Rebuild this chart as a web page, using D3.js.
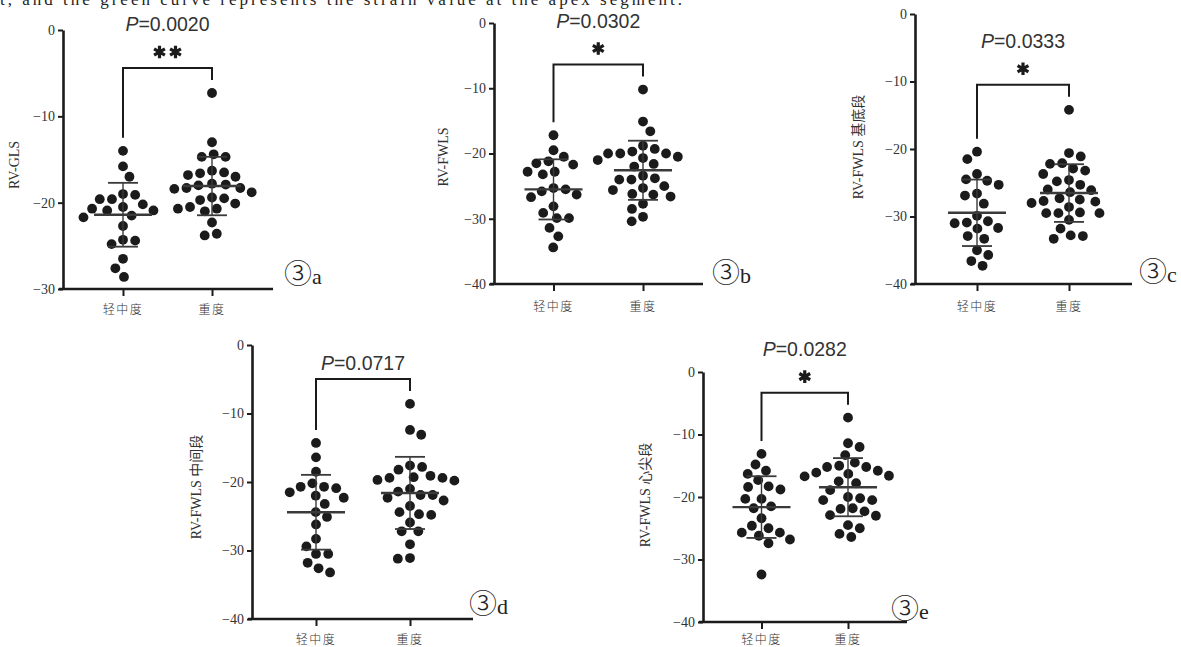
<!DOCTYPE html>
<html>
<head>
<meta charset="utf-8">
<script src="https://cdn.jsdelivr.net/npm/d3@7"></script>
<style>
  body { margin: 0; background: #fff; }
  svg { display: block; }
</style>
</head>
<body>
<svg id="fig" width="1181" height="647"></svg>
<script>
// groups on the x axis
const GROUPS = ['轻中度', '重度'];

// RV-GLS
const A_MILD =   [-14.0, -15.8, -17.0, -19.1, -19.0, -20.2, -19.6, -19.6, -20.5, -20.7, -20.9, -20.9, -21.5, -21.7, -22.7, -24.4, -24.8, -24.3, -26.5, -27.6, -28.6];
const A_SEVERE = [-7.3, -13.0, -14.4, -14.7, -14.7, -17.0, -16.8, -16.6, -16.3, -16.5, -18.3, -18.3, -18.0, -17.8, -18.4, -17.9, -19.4, -19.5, -18.8, -19.7, -20.5, -20.7, -20.1, -20.7, -21.0, -22.3, -23.8, -23.6];
// RV-FWLS
const B_MILD =   [-17.2, -19.5, -20.5, -21.2, -21.7, -21.5, -22.8, -23.2, -22.8, -25.3, -25.5, -25.8, -26.3, -26.7, -28.1, -29.9, -29.9, -29.1, -31.4, -32.7, -34.4];
const B_SEVERE = [-10.2, -15.1, -16.6, -18.8, -20.0, -19.3, -20.0, -20.0, -20.5, -20.7, -19.7, -21.0, -21.6, -22.0, -24.0, -23.4, -24.0, -23.8, -25.3, -25.0, -25.6, -26.2, -26.6, -26.3, -27.7, -28.5, -29.7, -30.4];
// RV-FWLS 基底段
const C_MILD =   [-20.4, -21.5, -24.5, -23.7, -24.7, -25.3, -26.6, -26.9, -28.1, -30.7, -29.9, -31.0, -30.9, -31.7, -31.8, -32.9, -33.3, -35.0, -35.7, -36.6, -37.3];
const C_SEVERE = [-14.2, -20.6, -22.2, -21.1, -22.1, -23.2, -22.9, -24.6, -24.8, -23.7, -26.0, -26.1, -25.3, -26.4, -27.8, -27.5, -27.7, -28.0, -27.3, -28.6, -29.5, -29.5, -29.5, -29.4, -30.5, -31.8, -33.3, -32.8, -32.9];
// RV-FWLS 中间段
const D_MILD =   [-14.3, -16.4, -18.5, -20.7, -20.7, -20.9, -20.2, -21.5, -22.0, -22.3, -23.2, -24.4, -25.1, -26.2, -28.3, -29.4, -30.5, -30.5, -31.8, -32.6, -33.2];
const D_SEVERE = [-8.6, -13.1, -12.4, -17.8, -17.6, -19.4, -19.8, -19.1, -19.3, -18.2, -19.7, -19.4, -21.4, -21.9, -22.3, -21.0, -21.9, -22.7, -23.5, -24.4, -24.8, -24.7, -25.9, -27.2, -27.2, -29.1, -31.2, -31.1];
// RV-FWLS 心尖段
const E_MILD =   [-13.1, -14.8, -15.8, -16.3, -17.3, -18.8, -18.3, -18.4, -20.3, -20.3, -21.5, -21.8, -23.4, -25.0, -25.7, -24.6, -26.2, -25.7, -26.8, -27.4, -32.4];
const E_SEVERE = [-7.3, -12.0, -11.4, -13.3, -14.5, -15.8, -15.2, -15.0, -16.6, -16.7, -16.3, -16.1, -15.2, -17.5, -18.9, -17.8, -20.5, -20.5, -20.2, -20.0, -22.3, -21.9, -21.8, -23.0, -22.9, -25.0, -24.5, -26.4, -25.9];

const SERIES = [[A_MILD, A_SEVERE], [B_MILD, B_SEVERE], [C_MILD, C_SEVERE], [D_MILD, D_SEVERE], [E_MILD, E_SEVERE]];
const Y_LABELS = ['RV-GLS', 'RV-FWLS', 'RV-FWLS 基底段', 'RV-FWLS 中间段', 'RV-FWLS 心尖段'];
const Y_MIN = [-30, -40, -40, -40, -40];
const Y_TICKS = [[0, -10, -20, -30], [0, -10, -20, -30, -40], [0, -10, -20, -30, -40], [0, -10, -20, -30, -40], [0, -10, -20, -30, -40]];
const P_VALUES = ['0.0020', '0.0302', '0.0333', '0.0717', '0.0282'];
const STARS = [2, 1, 1, 0, 1];
const TAGS = ['a', 'b', 'c', 'd', 'e'];

// where each panel sits on the page (pixels)
const LAYOUT = [
  {left: 63,  right: 273,  top: 30,  bottom: 289, cats: [123, 212],   ylab: [14, 165],  tag: [284, 284],  catY: 308},
  {left: 494, right: 703,  top: 23,  bottom: 284, cats: [553.5, 643], ylab: [443, 157], tag: [712, 283],  catY: 305},
  {left: 915, right: 1132, top: 14,  bottom: 284, cats: [977, 1069],  ylab: [858, 147], tag: [1139, 282], catY: 305},
  {left: 252, right: 473,  top: 345, bottom: 619, cats: [316, 410],   ylab: [196, 487], tag: [469, 614],  catY: 638},
  {left: 703, right: 907,  top: 372, bottom: 622, cats: [761.5, 848], ylab: [645, 495], tag: [891, 619],  catY: 638}
];

const INK = '#1b1b1b';
const R = 4.9;
const D = 12.2;

const svg = d3.select('#fig');
svg.append('rect').attr('width', 1181).attr('height', 647).attr('fill', '#fff');

// cropped caption line from the page above
svg.append('text')
  .attr('x', 0).attr('y', 5)
  .attr('textLength', 682).attr('lengthAdjust', 'spacing')
  .style('font-family', "'Liberation Serif', 'DejaVu Serif', serif")
  .style('font-size', '17px')
  .attr('fill', '#222')
  .text('t, and the green curve represents the strain value at the apex segment.');

// simple beeswarm: put every dot as near the centre as it can go without overlap
function swarm(values, y) {
  const pts = values.map(v => ({v: v, y: y(v)})).sort((a, b) => a.y - b.y);
  const placed = [];
  pts.forEach((p, k) => {
    const cands = [0];
    placed.forEach(q => {
      const dy = Math.abs(q.y - p.y);
      if (dy < D) {
        const dx = Math.sqrt(D * D - dy * dy);
        cands.push(q.x - dx, q.x + dx);
      }
    });
    const side = k % 2 ? 1 : -1;
    cands.sort((a, b) => (Math.abs(a) - Math.abs(b)) || (side * (a - b)));
    for (const c of cands) {
      if (placed.every(q => (q.x - c) ** 2 + (q.y - p.y) ** 2 >= D * D - 0.01)) { p.x = c; break; }
    }
    placed.push(p);
  });
  return placed;
}

LAYOUT.forEach((L, i) => {
  const y = d3.scaleLinear().domain([Y_MIN[i], 0]).range([L.bottom, L.top]);
  const x = d3.scalePoint().domain(GROUPS).range(L.cats);
  const g = svg.append('g');

  // y axis
  const ya = g.append('g')
    .attr('transform', `translate(${L.left},0)`)
    .call(d3.axisLeft(y).tickValues(Y_TICKS[i]).tickSize(5).tickSizeOuter(0).tickPadding(3).tickFormat(d3.format('d')));
  ya.select('.domain').attr('stroke', INK).attr('stroke-width', 2.6);
  ya.selectAll('.tick line').attr('stroke', INK).attr('stroke-width', 2);
  ya.selectAll('.tick text')
    .attr('fill', '#333')
    .style('font-family', "'Liberation Serif', 'DejaVu Serif', serif")
    .style('font-size', '14px');

  // x axis
  g.append('line')
    .attr('x1', L.left - 4).attr('x2', L.right)
    .attr('y1', L.bottom).attr('y2', L.bottom)
    .attr('stroke', INK).attr('stroke-width', 2.6);
  const xa = g.append('g')
    .attr('transform', `translate(0,${L.bottom})`)
    .call(d3.axisBottom(x).tickSize(7).tickSizeOuter(0).tickFormat(''));
  xa.select('.domain').remove();
  xa.selectAll('.tick line').attr('stroke', INK).attr('stroke-width', 2);

  g.selectAll('text.cat')
    .data(GROUPS)
    .join('text')
    .attr('class', 'cat')
    .attr('x', d => x(d)).attr('y', L.catY)
    .attr('text-anchor', 'middle').attr('dominant-baseline', 'central')
    .attr('fill', '#333')
    .style('font-family', "'Noto Sans CJK SC', sans-serif")
    .style('font-weight', 300)
    .style('font-size', '12px')
    .style('letter-spacing', '1.5px')
    .text(d => d);

  // y label
  g.append('text')
    .attr('transform', `translate(${L.ylab[0]},${L.ylab[1]}) rotate(-90)`)
    .attr('text-anchor', 'middle').attr('dominant-baseline', 'central')
    .attr('fill', '#333')
    .style('font-family', "'Liberation Serif', 'Noto Sans CJK SC', serif")
    .style('font-size', '14px')
    .text(Y_LABELS[i]);

  // dots + mean/SD
  SERIES[i].forEach((vals, j) => {
    const cx = x(GROUPS[j]);
    const pts = swarm(vals, y);
    g.append('g').selectAll('circle')
      .data(pts)
      .join('circle')
      .attr('cx', d => cx + d.x).attr('cy', d => d.y)
      .attr('r', R).attr('fill', INK);

    const m = d3.mean(vals), s = d3.deviation(vals);
    const eb = g.append('g').attr('stroke', '#3a3a3a');
    eb.append('line').attr('x1', cx).attr('x2', cx).attr('y1', y(m + s)).attr('y2', y(m - s)).attr('stroke-width', 1.4);
    [m + s, m - s].forEach(v => {
      eb.append('line').attr('x1', cx - 15).attr('x2', cx + 15).attr('y1', y(v)).attr('y2', y(v)).attr('stroke-width', 1.8);
    });
    eb.append('line').attr('x1', cx - 29).attr('x2', cx + 29).attr('y1', y(m)).attr('y2', y(m)).attr('stroke-width', 2.4);
  });

  // significance bracket
  const x1 = x(GROUPS[0]), x2 = x(GROUPS[1]);
  const e1 = y(d3.max(SERIES[i][0])) - 13;
  const e2 = y(d3.max(SERIES[i][1])) - 13;
  const top = Math.min(e1, e2) - 12;
  g.append('path')
    .attr('d', `M${x1},${e1}V${top}H${x2}V${e2}`)
    .attr('fill', 'none').attr('stroke', INK).attr('stroke-width', 2);

  const mid = (x1 + x2) / 2;
  const starY = top - 16;
  const stars = d3.range(STARS[i]).map(k => mid + (k - (STARS[i] - 1) / 2) * 16);
  const sym = d3.symbol().type(d3.symbolAsterisk || d3.symbolCross).size(110);
  g.selectAll('path.star')
    .data(stars)
    .join('path')
    .attr('class', 'star')
    .attr('d', sym)
    .attr('transform', d => `translate(${d},${starY})`)
    .attr('fill', INK).attr('stroke', INK).attr('stroke-width', 3.2);

  const pY = STARS[i] ? starY - 28 : top - 16;
  const pt = g.append('text')
    .attr('x', mid).attr('y', pY)
    .attr('text-anchor', 'middle').attr('dominant-baseline', 'central')
    .attr('fill', '#333')
    .style('font-family', "'Liberation Sans', Arial, sans-serif")
    .style('font-size', '19.5px');
  pt.append('tspan').style('font-style', 'italic').text('P');
  pt.append('tspan').text('=' + P_VALUES[i]);

  // panel tag
  const tg = g.append('text')
    .attr('x', L.tag[0]).attr('y', L.tag[1])
    .attr('fill', '#222');
  tg.append('tspan').style('font-family', "'Noto Sans CJK SC', sans-serif").style('font-size', '28px').style('font-weight', 300).text('③');
  tg.append('tspan').style('font-family', "'Liberation Serif', serif").style('font-size', '22px').text(TAGS[i]);
});
</script>
</body>
</html>
